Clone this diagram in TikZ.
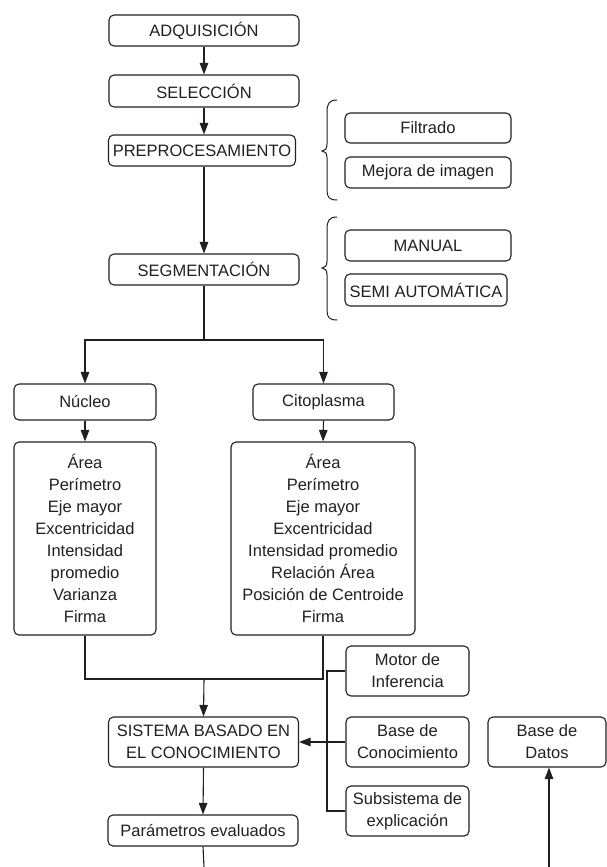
\documentclass[tikz,border=0pt]{standalone}
\usepackage{fontspec}
\setmainfont{Liberation Sans}
\usetikzlibrary{arrows.meta}
\definecolor{ink}{RGB}{35,31,32}
\begin{document}
\begin{tikzpicture}[x=1pt,y=-1pt,
  box/.style={draw=ink,line width=1.1pt,rounded corners=5pt,inner sep=0pt,align=center,text=ink,font=\fontsize{16.5}{21.9}\selectfont},
  ln/.style={draw=ink,line width=1.1pt},
  arr/.style={ln,-{Triangle[length=11.5pt,width=8.5pt]}},
  brc/.style={ln,line width=1.0pt}]
\useasboundingbox (0,0) rectangle (607,867);
\node[box,minimum width=190pt,minimum height=31pt] (adq) at (204,30.5) {ADQUISICIÓN};
\node[box,minimum width=190pt,minimum height=32pt] (sel) at (204,91) {SELECCIÓN};
\node[box,minimum width=187pt,minimum height=31pt] (pre) at (202,150.5) {PREPROCESAMIENTO};
\node[box,minimum width=190pt,minimum height=31pt] (seg) at (204,269.5) {SEGMENTACIÓN};
\node[box,minimum width=166pt,minimum height=30pt] (fil) at (428,128) {Filtrado};
\node[box,minimum width=166pt,minimum height=31pt] (mej) at (428,172.5) {Mejora de imagen};
\node[box,minimum width=166pt,minimum height=31pt] (man) at (428,245.5) {MANUAL};
\node[box,minimum width=162pt,minimum height=32pt] (semi) at (426,290) {SEMI AUTOMÁTICA};
\node[box,minimum width=142pt,minimum height=36pt] (nuc) at (85,402) {Núcleo};
\node[box,minimum width=141pt,minimum height=36pt] (cit) at (323.5,402) {Citoplasma};
\node[box,minimum width=142pt,minimum height=193pt] (fl) at (85,538.5) {Área\\Perímetro\\Eje mayor\\Excentricidad\\Intensidad\\promedio\\Varianza\\Firma};
\node[box,minimum width=184pt,minimum height=193pt] (fr) at (323,538.5) {Área\\Perímetro\\Eje mayor\\Excentricidad\\Intensidad promedio\\Relación Área\\Posición de Centroide\\Firma};
\node[box,minimum width=190pt,minimum height=50pt] (sis) at (203.5,742) {SISTEMA BASADO EN\\EL CONOCIMIENTO};
\node[box,minimum width=190pt,minimum height=31pt] (par) at (203,830.5) {Parámetros evaluados};
\node[box,minimum width=123pt,minimum height=50pt] (mot) at (407.5,671) {Motor de\\Inferencia};
\node[box,minimum width=123pt,minimum height=50pt] (bc) at (407.5,742) {Base de\\Conocimiento};
\node[box,minimum width=123pt,minimum height=50pt] (sub) at (407.5,811) {Subsistema de\\explicación};
\node[box,minimum width=118pt,minimum height=50pt] (bd) at (547,742) {Base de\\Datos};
\coordinate (split) at (204,340);
\coordinate (merge) at (204,679);
\coordinate (busT) at (327,671);
\coordinate (busB) at (327,811);
\coordinate (endP) at (204,867);
\coordinate (startD) at (549,867);
\draw[arr] (adq.south) -- (sel.north);
\draw[arr] (sel.south) -- (sel.south |- pre.north);
\draw[arr] (pre.south -| sel.south) -- (seg.north);
\draw[ln] (seg.south) -- (split);
\draw[arr] (split) -| (nuc.north);
\draw[arr] (split) -| (cit.north);
\draw[arr] (nuc.south) -- (fl.north);
\draw[arr] (cit.south) -- (fr.north);
\draw[ln] (fl.south) |- (merge) -| (fr.south);
\draw[arr] (merge) -- (sis.north);
\draw[arr] (sis.south) -- (par.north);
\draw[ln] (par.south) -- (endP);
\draw[arr] (startD) -- (startD |- bd.south);
\draw[ln] (mot.west) -- (busT) -- (busB) -- (sub.west);
\draw[arr] (bc.west) -- (sis.east);
\draw[brc] (337,100) .. controls (329,100) and (327,104) .. (327,112) -- (327,144) .. controls (327,149) and (325,151) .. (322,151) .. controls (325,151) and (327,153) .. (327,158) -- (327,190) .. controls (327,197) and (329,200) .. (337,200);
\draw[brc] (337,217) .. controls (329,217) and (327,221) .. (327,229) -- (327,261) .. controls (327,266) and (325,268) .. (322,268) .. controls (325,268) and (327,270) .. (327,275) -- (327,310) .. controls (327,317) and (329,320) .. (337,320);
\end{tikzpicture}
\end{document}
